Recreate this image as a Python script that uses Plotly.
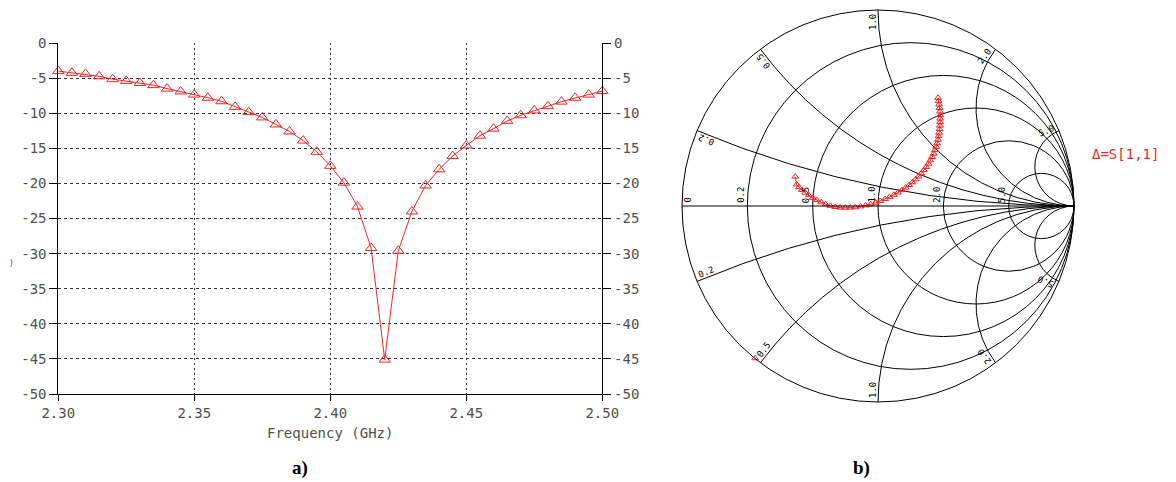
import numpy as np
import plotly.graph_objects as go

# ---------------- data ----------------
# Return loss sweep, 2.30 - 2.50 GHz, 5 MHz steps
freq_ghz = [2.300, 2.305, 2.310, 2.315, 2.320, 2.325, 2.330, 2.335, 2.340, 2.345,
            2.350, 2.355, 2.360, 2.365, 2.370, 2.375, 2.380, 2.385, 2.390, 2.395,
            2.400, 2.405, 2.410, 2.415, 2.420, 2.425, 2.430, 2.435, 2.440, 2.445,
            2.450, 2.455, 2.460, 2.465, 2.470, 2.475, 2.480, 2.485, 2.490, 2.495,
            2.500]
s11_db = [-4.0, -4.25, -4.4, -4.75, -5.15, -5.4, -5.7, -6.0, -6.5, -6.9,
          -7.35, -7.8, -8.3, -9.1, -9.85, -10.6, -11.6, -12.6, -13.9, -15.5,
          -17.5, -19.9, -23.3, -29.2, -45.1, -29.6, -24.0, -20.3, -18.0, -16.1,
          -14.6, -13.2, -12.2, -11.1, -10.3, -9.6, -9.0, -8.35, -7.8, -7.35,
          -6.85]

x_tick_vals = [2.30, 2.35, 2.40, 2.45, 2.50]
x_tick_text = ["2.30", "2.35", "2.40", "2.45", "2.50"]
y_tick_vals = [0, -5, -10, -15, -20, -25, -30, -35, -40, -45, -50]
y_tick_text = ["0", "-5", "-10", "-15", "-20", "-25", "-30", "-35", "-40", "-45", "-50"]

# S[1,1] locus as reflection coefficient (real, imaginary)
gamma_re = [0.306, 0.309, 0.312, 0.314, 0.316, 0.317, 0.317, 0.317, 0.316, 0.314,
            0.312, 0.309, 0.306, 0.302, 0.297, 0.291, 0.284, 0.276, 0.267, 0.257,
            0.246, 0.234, 0.221, 0.207, 0.192, 0.176, 0.159, 0.141, 0.122, 0.102,
            0.081, 0.059, 0.036, 0.012, -0.012, -0.037, -0.063, -0.089, -0.115, -0.141,
            -0.167, -0.193, -0.218, -0.243, -0.267, -0.290, -0.312, -0.333, -0.353, -0.371,
            -0.388, -0.403, -0.415, -0.422]
gamma_im = [0.552, 0.535, 0.518, 0.500, 0.482, 0.464, 0.446, 0.428, 0.410, 0.392,
            0.374, 0.356, 0.338, 0.320, 0.302, 0.285, 0.267, 0.250, 0.233, 0.216,
            0.199, 0.183, 0.167, 0.151, 0.136, 0.121, 0.107, 0.094, 0.081, 0.069,
            0.057, 0.046, 0.036, 0.026, 0.017, 0.009, 0.003, -0.002, -0.006, -0.008,
            -0.009, -0.008, -0.005, 0.001, 0.009, 0.019, 0.030, 0.042, 0.055, 0.068,
            0.082, 0.096, 0.110, 0.150]
# single marker sitting on the rim
rim_gamma_re = [-0.627]
rim_gamma_im = [-0.777]

smith_r_grid = [0.2, 0.5, 1.0, 2.0, 5.0]
smith_r_labels = ["0", "0.2", "0.5", "1.0", "2.0", "5.0"]
smith_x_grid = [0.2, 0.5, 1.0, 2.0, 5.0]
smith_x_labels = ["0.2", "0.5", "1.0", "2.0", "5.0"]

# ---------------- layout constants ----------------
W, H = 1176, 482
RED = "#ff2020"
MONO = "DejaVu Sans Mono"
GRAY = "#505050"


def paper(px, py):
    return px / W, 1 - py / H


def to_z(gr, gi):
    g = np.asarray(gr) + 1j * np.asarray(gi)
    z = (1 + g) / (1 - g)
    return z.real, z.imag


fig = go.Figure()

# ---- rectangular plot: magnitude in dB ----
fig.add_trace(go.Scatter(
    x=freq_ghz, y=s11_db, mode="lines+markers",
    line=dict(color=RED, width=1),
    marker=dict(symbol="triangle-up-open", size=10, color=RED, line=dict(width=1, color=RED)),
    cliponaxis=False, showlegend=False, xaxis="x", yaxis="y",
))

x0, x1 = 58.3, 602.3
y_top, y_bot = 43.0, 394.0
axis_common = dict(
    showline=True, linecolor="black", linewidth=1,
    ticks="outside", tickcolor="black",
    tickfont=dict(family=MONO, size=14, color=GRAY),
    zeroline=False, automargin=False,
)
fig.update_layout(
    xaxis=dict(domain=[x0 / W, x1 / W], range=[2.30, 2.50], anchor="y",
               tickvals=x_tick_vals, ticktext=x_tick_text, ticklen=6,
               showgrid=True, gridcolor="#333333", gridwidth=1, griddash="2px,3px",
               **axis_common),
    yaxis=dict(domain=[1 - y_bot / H, 1 - y_top / H], range=[-50, 0], anchor="x",
               tickvals=y_tick_vals, ticktext=y_tick_text, ticklen=8,
               showgrid=True, gridcolor="#333333", gridwidth=1, griddash="3px,3px",
               **axis_common),
    yaxis2=dict(overlaying="y", side="right", anchor="x", range=[-50, 0],
                tickvals=y_tick_vals, ticktext=y_tick_text, ticklen=8,
                showgrid=False, **axis_common),
)
# ghost trace to keep the right-hand scale drawn
fig.add_trace(go.Scatter(x=freq_ghz, y=s11_db, mode="lines", line=dict(width=0),
                         opacity=0, hoverinfo="skip", showlegend=False,
                         xaxis="x", yaxis="y2"))

# ---- Smith chart ----
SC_X, SC_Y, SC_R = 878.0, 206.0, 196.0
z_re, z_im = to_z(gamma_re, gamma_im)
rz_re, rz_im = to_z(rim_gamma_re, rim_gamma_im)
fig.add_trace(go.Scattersmith(
    real=z_re, imag=z_im, mode="lines+markers",
    line=dict(color=RED, width=1),
    marker=dict(symbol="triangle-up-open", size=6, color=RED, line=dict(width=1, color=RED)),
    showlegend=False,
))
fig.add_trace(go.Scattersmith(
    real=rz_re, imag=rz_im, mode="markers",
    marker=dict(symbol="triangle-up-open", size=6, color=RED, line=dict(width=1, color=RED)),
    showlegend=False,
))

smith_axis = dict(showticklabels=False, ticks="", gridcolor="black", gridwidth=1,
                  linecolor="black", linewidth=1)
x_grid_both = [-v for v in smith_x_grid[::-1]] + smith_x_grid
fig.update_layout(
    smith=dict(
        domain=dict(x=[(SC_X - SC_R) / W, (SC_X + SC_R) / W],
                    y=[1 - (SC_Y + SC_R) / H, 1 - (SC_Y - SC_R) / H]),
        bgcolor="white",
        realaxis=dict(tickvals=smith_r_grid, **smith_axis),
        imaginaryaxis=dict(tickvals=x_grid_both, **smith_axis),
    )
)

annotations = []


def add_text(px, py, text, size=9, angle=0, color="black", family=MONO,
             xanchor="center", yanchor="middle"):
    ax, ay = paper(px, py)
    annotations.append(dict(x=ax, y=ay, xref="paper", yref="paper", text=text,
                            showarrow=False, textangle=angle, xanchor=xanchor,
                            yanchor=yanchor, font=dict(family=family, size=size, color=color)))


# resistance labels along the real axis
r_vals = [0.0] + smith_r_grid
for r, lab in zip(r_vals, smith_r_labels):
    g = (r - 1) / (r + 1)
    cx = SC_X + SC_R * g
    if r == 0:
        add_text(cx + 5.5, SC_Y - 6, lab, angle=-90)
    else:
        add_text(cx - 6.5, SC_Y - 11, lab, angle=-90)

# reactance labels just inside the rim, running along each arc
for xv, lab in zip(smith_x_grid, smith_x_labels):
    p = np.array([(xv ** 2 - 1) / (xv ** 2 + 1), 2 * xv / (xv ** 2 + 1)])
    c = np.array([1.0, 1.0 / xv])
    d = p - c
    t = np.array([-d[1], d[0]])
    t = t / np.hypot(*t)
    ts = np.array([t[0], -t[1]])              # screen direction (y down)
    ns = np.array([-ts[1], ts[0]])
    ps = np.array([SC_X + SC_R * p[0], SC_Y - SC_R * p[1]])
    pos = ps + 12 * ts + 5 * ns
    ang_up = np.degrees(np.arctan2(-ts[1], -ts[0]))
    add_text(pos[0], pos[1], lab, angle=ang_up)
    # mirrored label for the negative reactance arc
    ps_l = np.array([ps[0], 2 * SC_Y - ps[1]])
    ts_l = np.array([ts[0], -ts[1]])
    ns_l = np.array([ns[0], -ns[1]])
    pos_l = ps_l + 12 * ts_l + 5 * ns_l
    ang_lo = np.degrees(np.arctan2(ts_l[1], ts_l[0]))
    add_text(pos_l[0], pos_l[1], lab, angle=ang_lo)

# trace legend
add_text(1090, 154, "Δ=S[1,1]", size=14, color=RED, xanchor="left")

# axis title of the dB plot
add_text((x0 + x1) / 2, 433, "Frequency (GHz)", size=14, color=GRAY)
add_text(11, 263, ")", size=8, color=GRAY)

# panel captions
add_text(300, 468, "<b>a)</b>", size=19, family="Liberation Serif")
add_text(861, 468, "<b>b)</b>", size=19, family="Liberation Serif")

fig.update_layout(
    width=W, height=H, margin=dict(l=0, r=0, t=0, b=0, autoexpand=False),
    paper_bgcolor="white", plot_bgcolor="white",
    showlegend=False, annotations=annotations,
)

fig.write_html("out.html")
